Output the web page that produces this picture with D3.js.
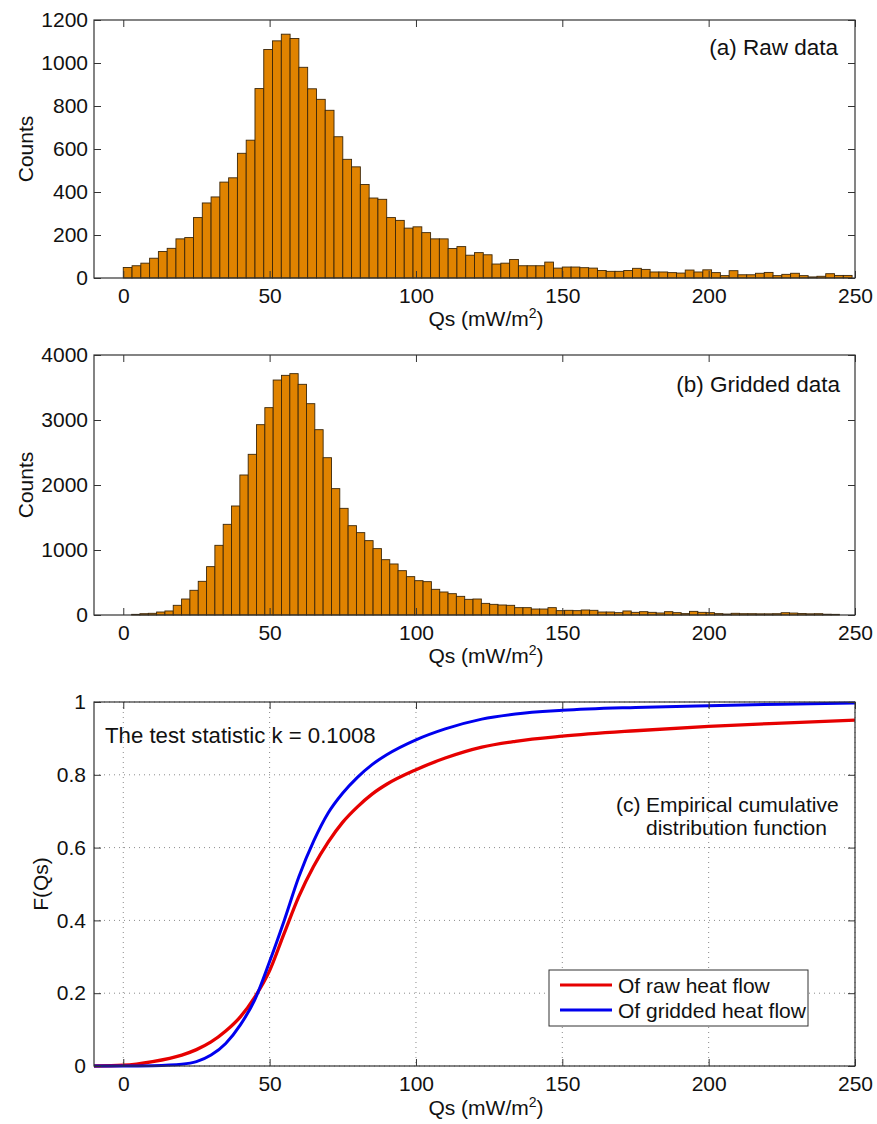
<!DOCTYPE html>
<html>
<head>
<meta charset="utf-8">
<script src="https://cdn.jsdelivr.net/npm/d3@7"></script>
<style>
body { margin: 0; background: #fff; }
text { font-family: "Liberation Sans", Arial, sans-serif; fill: #111; }
</style>
</head>
<body>
<div id="graph"></div>
<script>
// histogram (a): raw heat flow, bins of 3 mW/m2 starting at 0
var rawBinStart = 0, rawBinWidth = 3;
var rawCounts = [49,57,69,92,123,138,182,188,281,349,377,446,466,580,641,881,1063,1103,1134,1114,
  980,880,831,780,657,552,517,435,372,366,281,268,232,238,211,182,182,137,146,106,
  118,108,65,69,86,57,57,57,74,46,51,51,48,46,35,31,31,35,45,40,
  28,28,25,23,37,28,38,25,11,34,15,15,22,26,11,17,22,11,5,8,20,12,12];

// histogram (b): gridded heat flow
var gridBinStart = 2.85, gridBinWidth = 2.845;
var gridCounts = [10,20,26,46,62,149,246,380,518,744,1072,1395,1677,2154,2472,2928,3190,3615,3687,3713,
  3549,3251,2851,2420,1944,1641,1374,1267,1144,1021,851,785,682,590,528,513,395,354,328,287,
  241,246,179,164,154,149,113,113,92,92,113,67,72,67,77,72,46,46,36,62,
  41,51,41,31,51,36,21,56,41,36,21,15,26,20,20,18,18,20,35,30,22,18,20,12,10];

// empirical CDFs (c)
var cdfQs   = [-10,0,10,20,25,30,35,40,45,50,55,60,65,70,75,80,85,90,100,110,122.5,134,150,175,200,225,250];
var cdfRaw  = [0,0.002,0.012,0.03,0.045,0.066,0.096,0.135,0.19,0.262,0.365,0.466,0.548,0.615,0.67,0.712,0.747,0.774,0.814,0.846,0.876,0.892,0.906,0.921,0.933,0.942,0.95];
var cdfGrid = [0,0,0.001,0.005,0.012,0.03,0.062,0.113,0.183,0.287,0.40,0.52,0.617,0.695,0.75,0.793,0.828,0.855,0.896,0.926,0.953,0.967,0.977,0.985,0.99,0.994,0.997];

var xTicks = [0,50,100,150,200,250];
var rawTicks = [0,200,400,600,800,1000,1200];
var gridTicks = [0,1000,2000,3000,4000];
var fTicks = [0,0.2,0.4,0.6,0.8,1];

var W = 877, H = 1124;
var left = 94, right = 855;

var svg = d3.select("#graph").append("svg")
    .attr("width", W).attr("height", H);

var x = d3.scaleLinear().domain([-10, 250]).range([left, right]);

function frame(top, bottom, y, yTickVals, yFmt, ypad) {
  var g = svg.append("g");
  g.append("g").attr("transform", "translate(0," + bottom + ")")
    .call(d3.axisBottom(x).tickValues(xTicks).tickSize(-7).tickPadding(10).tickSizeOuter(0));
  g.append("g").attr("transform", "translate(0," + top + ")")
    .call(d3.axisTop(x).tickValues(xTicks).tickSize(-7).tickFormat("").tickSizeOuter(0));
  g.append("g").attr("transform", "translate(" + left + ",0)")
    .call(d3.axisLeft(y).tickValues(yTickVals).tickSize(-7).tickPadding(ypad).tickFormat(yFmt).tickSizeOuter(0));
  g.append("g").attr("transform", "translate(" + right + ",0)")
    .call(d3.axisRight(y).tickValues(yTickVals).tickSize(-7).tickFormat("").tickSizeOuter(0));
  g.selectAll(".domain").remove();
  g.selectAll(".tick line").attr("stroke", "#333").attr("stroke-width", 1);
  g.selectAll(".tick text").attr("font-size", 21).attr("fill", "#111")
    .style("font-family", '"Liberation Sans", Arial, sans-serif');
  g.append("rect").attr("x", left).attr("y", top)
    .attr("width", right - left).attr("height", bottom - top)
    .attr("fill", "none").attr("stroke", "#333").attr("stroke-width", 1.2);
  return g;
}

function xlabel(yb) {
  var t = svg.append("text").attr("x", 486).attr("y", yb)
    .attr("text-anchor", "middle").attr("font-size", 21);
  t.append("tspan").text("Qs (mW/m");
  t.append("tspan").attr("font-size", 14).attr("dy", -8).text("2");
  t.append("tspan").attr("dy", 8).text(")");
}

function ylabel(txt, cx, cy) {
  svg.append("text").attr("transform", "translate(" + cx + "," + cy + ") rotate(-90)")
    .attr("text-anchor", "middle").attr("dominant-baseline", "central")
    .attr("font-size", 21).text(txt);
}

function bars(counts, start, width, y, bottom) {
  svg.append("g").selectAll("rect")
    .data(counts).enter().append("rect")
    .attr("x", function(d, i) { return x(start + i * width); })
    .attr("width", function(d, i) { return x(start + (i + 1) * width) - x(start + i * width); })
    .attr("y", function(d) { return y(d); })
    .attr("height", function(d) { return bottom - y(d); })
    .attr("fill", "#e08300")
    .attr("stroke", "#3b2608")
    .attr("stroke-width", 0.9);
}

// ---- panel a
var aTop = 20, aBot = 278;
var ya = d3.scaleLinear().domain([0, 1200]).range([aBot, aTop]);
bars(rawCounts, rawBinStart, rawBinWidth, ya, aBot);
frame(aTop, aBot, ya, rawTicks, d3.format("d"), 6);
xlabel(326);
ylabel("Counts", 25, (aTop + aBot) / 2);
svg.append("text").attr("x", 838).attr("y", 55).attr("text-anchor", "end")
  .attr("font-size", 22.5).text("(a) Raw data");

// ---- panel b
var bTop = 355, bBot = 615;
var yb = d3.scaleLinear().domain([0, 4000]).range([bBot, bTop]);
bars(gridCounts, gridBinStart, gridBinWidth, yb, bBot);
frame(bTop, bBot, yb, gridTicks, d3.format("d"), 6);
xlabel(663);
ylabel("Counts", 25, (bTop + bBot) / 2);
svg.append("text").attr("x", 840).attr("y", 392).attr("text-anchor", "end")
  .attr("font-size", 22.5).text("(b) Gridded data");

// ---- panel c
var cTop = 702, cBot = 1066;
var yc = d3.scaleLinear().domain([0, 1]).range([cBot, cTop]);

var grid = svg.append("g");
grid.selectAll("line.vx").data(xTicks).enter().append("line")
  .attr("x1", function(d) { return x(d); }).attr("x2", function(d) { return x(d); })
  .attr("y1", cTop).attr("y2", cBot);
grid.selectAll("line.hy").data(fTicks).enter().append("line")
  .attr("x1", left).attr("x2", right)
  .attr("y1", function(d) { return yc(d); }).attr("y2", function(d) { return yc(d); });
grid.selectAll("line").attr("stroke", "#8a8a8a").attr("stroke-width", 1)
  .attr("stroke-dasharray", "1,4");

var line = d3.line()
  .x(function(d) { return x(d[0]); })
  .y(function(d) { return yc(d[1]); })
  .curve(d3.curveMonotoneX);

svg.append("path").datum(d3.zip(cdfQs, cdfRaw)).attr("d", line)
  .attr("fill", "none").attr("stroke", "#e60000").attr("stroke-width", 3.3);
svg.append("path").datum(d3.zip(cdfQs, cdfGrid)).attr("d", line)
  .attr("fill", "none").attr("stroke", "#0000ee").attr("stroke-width", 3);

frame(cTop, cBot, yc, fTicks, d3.format("~g"), 8);
xlabel(1115);
ylabel("F(Qs)", 40, (cTop + cBot) / 2);

svg.append("text").attr("x", 105).attr("y", 743).attr("font-size", 22.2)
  .text("The test statistic k = 0.1008");
svg.append("text").attr("x", 616).attr("y", 812).attr("font-size", 21).text("(c)");
svg.append("text").attr("x", 646).attr("y", 812).attr("font-size", 21).text("Empirical cumulative");
svg.append("text").attr("x", 646).attr("y", 835).attr("font-size", 21).text("distribution function");

// legend
var leg = svg.append("g");
leg.append("rect").attr("x", 549).attr("y", 970).attr("width", 259).attr("height", 56)
  .attr("fill", "#fff").attr("stroke", "#333").attr("stroke-width", 1);
var legItems = [["Of raw heat flow", "#e60000"], ["Of gridded heat flow", "#0000ee"]];
legItems.forEach(function(d, i) {
  var ly = 985 + i * 25;
  leg.append("line").attr("x1", 560).attr("x2", 612).attr("y1", ly).attr("y2", ly)
    .attr("stroke", d[1]).attr("stroke-width", 3);
  leg.append("text").attr("x", 618).attr("y", ly).attr("dominant-baseline", "central")
    .attr("font-size", 21).text(d[0]);
});
</script>
</body>
</html>
